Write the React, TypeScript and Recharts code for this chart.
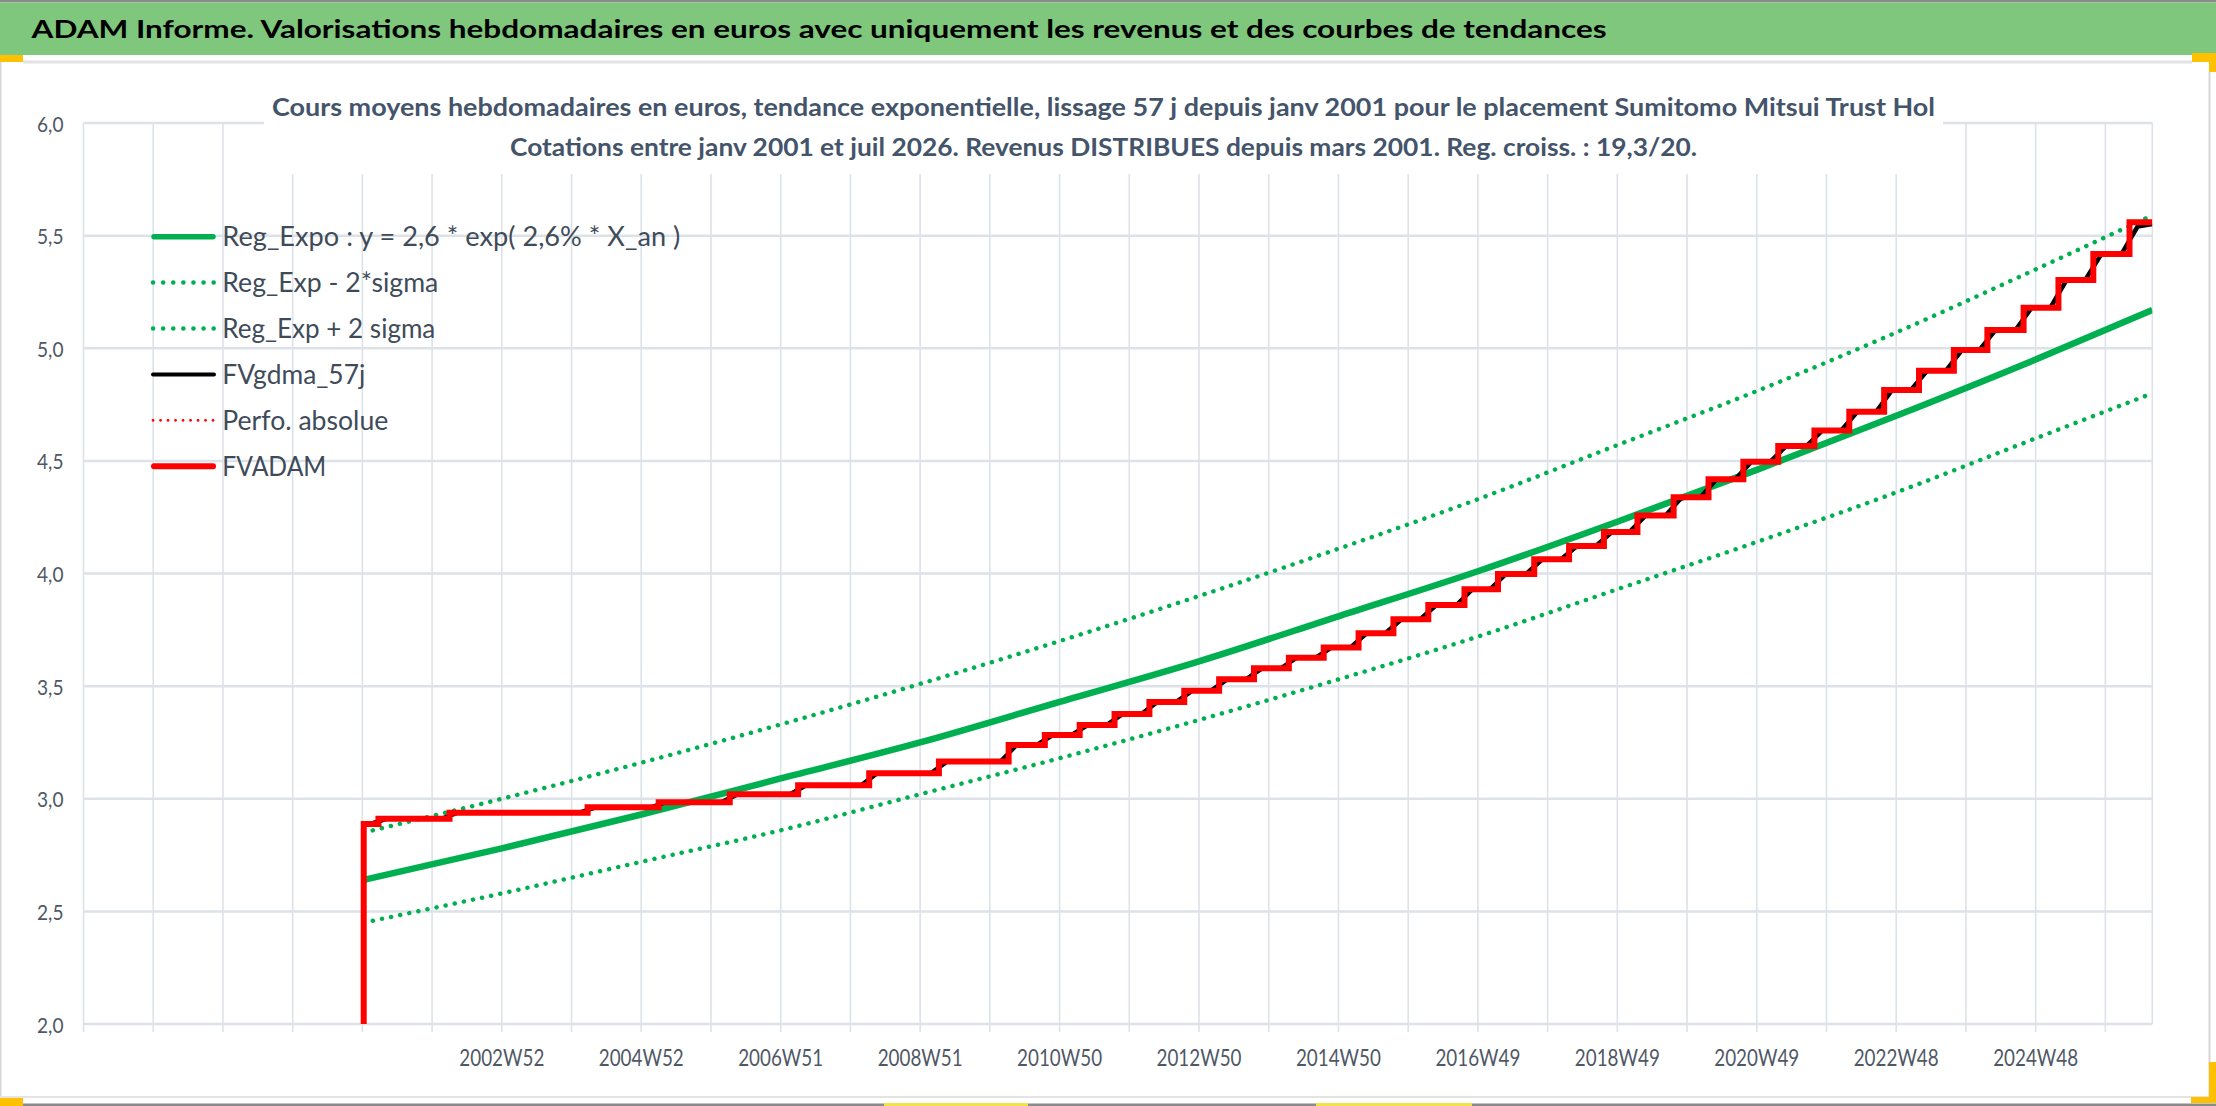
import React from 'react';
import { LineChart, Line, XAxis, YAxis, CartesianGrid } from 'recharts';

const FONT = "Lato, 'Open Sans', 'DejaVu Sans', sans-serif";

// ---- axis ticks ----
const xTickWeeks = [0, 52, 104, 156, 208, 260, 312, 364, 416, 468, 520, 572, 624, 676, 728, 780, 832, 884, 936, 988, 1040, 1092, 1144, 1196, 1248, 1300, 1352, 1404, 1456, 1508];
const xTickLabels = ['', '', '', '', '', '', '2002W52', '', '2004W52', '', '2006W51', '', '2008W51', '', '2010W50', '', '2012W50', '', '2014W50', '', '2016W49', '', '2018W49', '', '2020W49', '', '2022W48', '', '2024W48', ''];
const yTicks = [2, 2.5, 3, 3.5, 4, 4.5, 5, 5.5, 6];
const yTickLabels = ['2,0', '2,5', '3,0', '3,5', '4,0', '4,5', '5,0', '5,5', '6,0'];

// ---- regression curves (week index -> value) ----
const regWeeks = [209, 312, 416, 520, 624, 728, 832, 936, 1040, 1144, 1248, 1352, 1456, 1543];
const regExpo = [2.64, 2.78, 2.93, 3.09, 3.25, 3.43, 3.61, 3.81, 4.01, 4.23, 4.46, 4.70, 4.95, 5.17];
const regLow = [2.45, 2.58, 2.72, 2.86, 3.02, 3.18, 3.35, 3.53, 3.72, 3.93, 4.14, 4.36, 4.60, 4.80];
const regHigh = [2.85, 3.00, 3.16, 3.33, 3.51, 3.70, 3.90, 4.11, 4.33, 4.57, 4.81, 5.07, 5.35, 5.59];

// ---- FVADAM (step series) ----
const fvadamWeeks = [0, 209, 220, 273, 376, 429, 482, 533, 586, 638, 690, 717, 743, 769, 795, 821, 847, 873, 899, 925, 951, 977, 1003, 1030, 1055, 1082, 1108, 1134, 1159, 1186, 1212, 1238, 1264, 1291, 1317, 1343, 1369, 1395, 1420, 1447, 1473, 1499, 1526, 1543];
const fvadamValues = [0, 2.888, 2.911, 2.938, 2.962, 2.985, 3.020, 3.060, 3.113, 3.165, 3.239, 3.283, 3.327, 3.376, 3.430, 3.480, 3.530, 3.579, 3.626, 3.672, 3.735, 3.797, 3.860, 3.930, 3.998, 4.063, 4.122, 4.184, 4.257, 4.338, 4.418, 4.496, 4.566, 4.635, 4.718, 4.815, 4.900, 4.992, 5.081, 5.180, 5.303, 5.418, 5.559, 5.559];

// ---- FVgdma_57j (smoothed) ----
const fvgdmaWeeks = [209, 214, 226, 267, 279, 370, 382, 423, 435, 476, 488, 527, 539, 580, 592, 632, 644, 684, 696, 711, 723, 737, 749, 763, 775, 789, 801, 815, 827, 841, 853, 867, 879, 893, 905, 919, 931, 945, 957, 971, 983, 997, 1009, 1024, 1036, 1049, 1061, 1076, 1088, 1102, 1114, 1128, 1140, 1153, 1165, 1180, 1192, 1206, 1218, 1232, 1244, 1258, 1270, 1285, 1297, 1311, 1323, 1337, 1349, 1363, 1375, 1389, 1401, 1414, 1426, 1441, 1453, 1467, 1479, 1493, 1505, 1520, 1532, 1543];
const fvgdmaValues = [2.888, 2.888, 2.911, 2.911, 2.938, 2.938, 2.962, 2.962, 2.985, 2.985, 3.020, 3.020, 3.060, 3.060, 3.113, 3.113, 3.165, 3.165, 3.239, 3.239, 3.283, 3.283, 3.327, 3.327, 3.376, 3.376, 3.430, 3.430, 3.480, 3.480, 3.530, 3.530, 3.579, 3.579, 3.626, 3.626, 3.672, 3.672, 3.735, 3.735, 3.797, 3.797, 3.860, 3.860, 3.930, 3.930, 3.998, 3.998, 4.063, 4.063, 4.122, 4.122, 4.184, 4.184, 4.257, 4.257, 4.338, 4.338, 4.418, 4.418, 4.496, 4.496, 4.566, 4.566, 4.635, 4.635, 4.718, 4.718, 4.815, 4.815, 4.900, 4.900, 4.992, 4.992, 5.081, 5.081, 5.180, 5.180, 5.303, 5.303, 5.418, 5.418, 5.540, 5.552];

// ---- texts ----
const headerText = 'ADAM Informe. Valorisations hebdomadaires en euros avec uniquement les revenus et des courbes de tendances';
const titleLine1 = 'Cours moyens hebdomadaires en euros, tendance exponentielle, lissage 57 j depuis janv 2001 pour le placement Sumitomo Mitsui Trust Hol';
const titleLine2 = 'Cotations entre janv 2001 et juil 2026. Revenus DISTRIBUES depuis mars 2001. Reg. croiss. : 19,3/20.';
const legendNames = ['Reg_Expo : y = 2,6 * exp( 2,6% *  X_an )', 'Reg_Exp - 2*sigma', 'Reg_Exp + 2 sigma', 'FVgdma_57j', 'Perfo. absolue', 'FVADAM'];

const GREEN = '#00B050';
const RED = '#FF0000';
const BLACK = '#000000';
const GRID = '#dde2e8';
const TICK_TEXT = '#4f5866';

const regData = regWeeks.map((w, i) => ({ w, expo: regExpo[i], low: regLow[i], high: regHigh[i] }));
const fvadamData = fvadamWeeks.map((w, i) => ({ w, v: fvadamValues[i] }));
const fvgdmaData = fvgdmaWeeks.map((w, i) => ({ w, v: fvgdmaValues[i] }));

const legendStyles = [
  { color: GREEN, width: 5.5, dash: undefined, cap: 'round', x1: 154, x2: 213, tw: 458 },
  { color: GREEN, width: 4.5, dash: '0.1 10', cap: 'round', x1: 153, x2: 214, tw: 216 },
  { color: GREEN, width: 4.5, dash: '0.1 10', cap: 'round', x1: 153, x2: 214, tw: 213 },
  { color: BLACK, width: 4, dash: undefined, cap: 'round', x1: 153, x2: 214, tw: 143 },
  { color: RED, width: 2.8, dash: '0.1 7.4', cap: 'round', x1: 153, x2: 214, tw: 166 },
  { color: RED, width: 6, dash: undefined, cap: 'round', x1: 154, x2: 213, tw: 104 },
];

const XTick = (props: any) => {
  const { x, y, payload } = props;
  const i = xTickWeeks.indexOf(payload.value);
  const label = i >= 0 ? xTickLabels[i] : '';
  if (!label) return <g />;
  return (
    <text x={x} y={y + 32} textAnchor="middle" fontFamily={FONT} fontSize={24} fill={TICK_TEXT} textLength={85} lengthAdjust="spacingAndGlyphs">
      {label}
    </text>
  );
};

const YTick = (props: any) => {
  const { x, y, payload } = props;
  const i = yTicks.indexOf(payload.value);
  const label = i >= 0 ? yTickLabels[i] : '';
  return (
    <text x={x} y={y + 8.5} textAnchor="end" fontFamily={FONT} fontSize={21} fill={TICK_TEXT} textLength={26.5} lengthAdjust="spacingAndGlyphs">
      {label}
    </text>
  );
};

export default function App() {
  return (
    <div style={{ position: 'absolute', left: 0, top: 0, width: 2216, height: 1106, background: '#ffffff', overflow: 'hidden' }}>
      <div style={{ position: 'absolute', left: 0, top: 0 }}>
        <LineChart width={2216} height={1106} margin={{ top: 123, right: 63.7, bottom: 0, left: 0 }}>
          <CartesianGrid horizontal={true} vertical={false} stroke={GRID} strokeWidth={2.5} />
          <CartesianGrid horizontal={false} vertical={true} stroke={GRID} strokeWidth={1.6} />
          <XAxis
            type="number"
            dataKey="w"
            domain={[0, 1543]}
            ticks={xTickWeeks}
            interval={0}
            allowDataOverflow
            height={82}
            axisLine={false}
            tickSize={8}
            tickLine={{ stroke: GRID, strokeWidth: 1.6 }}
            tick={<XTick />}
          />
          <YAxis
            type="number"
            domain={[2, 6]}
            ticks={yTicks}
            interval={0}
            allowDataOverflow
            width={83.5}
            axisLine={false}
            tickLine={false}
            tickSize={0}
            tickMargin={20}
            tick={<YTick />}
          />
          <Line data={regData} dataKey="expo" name="Reg_Expo" type="monotone" stroke={GREEN} strokeWidth={6.5} dot={false} activeDot={false} isAnimationActive={false} />
          <Line data={regData} dataKey="low" name="Reg_Exp - 2*sigma" type="monotone" stroke={GREEN} strokeWidth={4.5} strokeDasharray="0.1 9.2" strokeLinecap="round" dot={false} activeDot={false} isAnimationActive={false} />
          <Line data={regData} dataKey="high" name="Reg_Exp + 2 sigma" type="monotone" stroke={GREEN} strokeWidth={4.5} strokeDasharray="0.1 9.2" strokeLinecap="round" dot={false} activeDot={false} isAnimationActive={false} />
          <Line data={fvgdmaData} dataKey="v" name="FVgdma_57j" type="linear" stroke={BLACK} strokeWidth={4.5} dot={false} activeDot={false} isAnimationActive={false} />
          <Line data={fvadamData} dataKey="v" name="FVADAM" type="stepAfter" stroke={RED} strokeWidth={6} dot={false} activeDot={false} isAnimationActive={false} />
        </LineChart>
      </div>
      <svg width={2216} height={1106} style={{ position: 'absolute', left: 0, top: 0, pointerEvents: 'none' }}>
        {/* frame */}
        <rect x={0} y={0} width={2216} height={2.5} fill="#8a8a8a" />
        <rect x={0} y={2.5} width={2216} height={52.5} fill="#7ec77c" />
        <rect x={23} y={60.5} width={2169} height={3} fill="#e3e3e3" />
        <rect x={0} y={55} width={23} height={7} fill="#FFC000" />
        <rect x={2192} y={53} width={24} height={9} fill="#FFC000" />
        <rect x={2209} y={53} width={7} height={19} fill="#FFC000" />
        <rect x={2208.5} y={72} width={2} height={1026} fill="#d6d6d6" />
        <rect x={0} y={62} width={1.5} height={1036} fill="#d6d6d6" />
        <rect x={0} y={1096} width={2210} height={2} fill="#e3e3e3" />
        <rect x={0} y={1103.5} width={2216} height={2.5} fill="#8a8a8a" />
        <rect x={0} y={1098} width={23} height={8} fill="#FFC000" />
        <rect x={884} y={1103} width={144} height={3} fill="#f2e14a" />
        <rect x={1316} y={1103} width={156} height={3} fill="#f2e14a" />
        <rect x={2209} y={1062} width={7} height={41} fill="#FFC000" />
        <rect x={2191} y={1097} width={25} height={6} fill="#FFC000" />
        <text x={31.6} y={37.7} fontFamily={FONT} fontWeight={700} fontSize={25.5} fill="#000000" textLength={1575} lengthAdjust="spacingAndGlyphs">
          {headerText}
        </text>
        {/* chart title */}
        <rect x={264} y={78} width={1679} height={96} fill="#ffffff" />
        <text x={272} y={116} fontFamily={FONT} fontWeight={700} fontSize={25} fill="#44546A" textLength={1663} lengthAdjust="spacingAndGlyphs">
          {titleLine1}
        </text>
        <text x={510} y={156} fontFamily={FONT} fontWeight={700} fontSize={25} fill="#44546A" textLength={1187} lengthAdjust="spacingAndGlyphs">
          {titleLine2}
        </text>
        {/* legend */}
        {legendNames.map((name, i) => {
          const s = legendStyles[i];
          const cy = 236.7 + i * 45.9;
          return (
            <g key={name}>
              <line x1={s.x1} x2={s.x2} y1={cy} y2={cy} stroke={s.color} strokeWidth={s.width} strokeDasharray={s.dash} strokeLinecap={s.cap as any} />
              <text x={222.3} y={cy + 9.6} fontFamily={FONT} fontSize={27} fill="#404b5a" textLength={s.tw} lengthAdjust="spacingAndGlyphs">
                {name}
              </text>
            </g>
          );
        })}
      </svg>
    </div>
  );
}
